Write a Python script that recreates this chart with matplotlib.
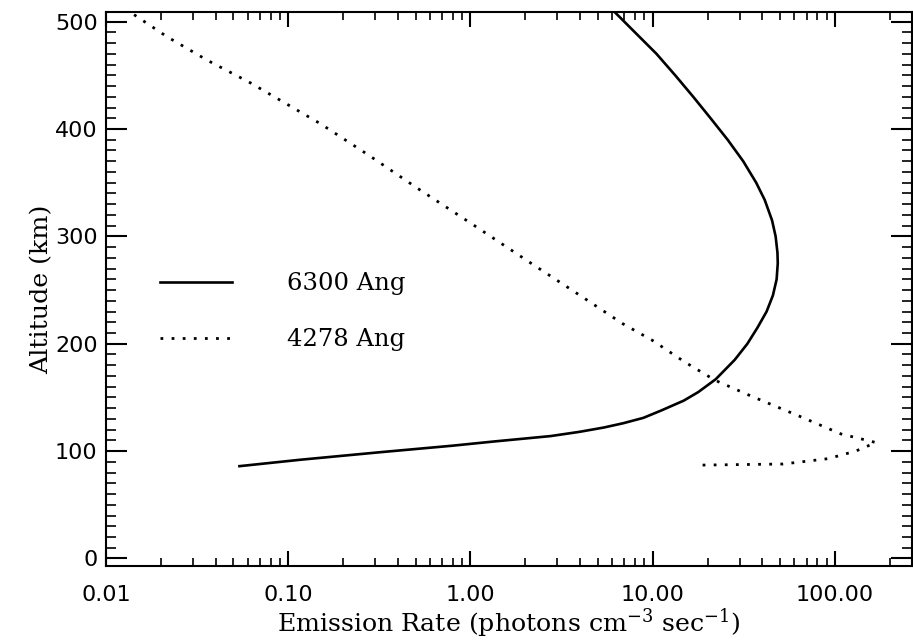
import numpy as np
import matplotlib
matplotlib.use("Agg")
import matplotlib.pyplot as plt
from matplotlib.ticker import LogLocator, MultipleLocator, NullFormatter

plt.rcParams['mathtext.fontset'] = 'dejavuserif'

# 6300 Ang (solid) emission profile
rate_6300 = [0.054, 0.117, 0.32, 0.79, 1.35, 2.75, 3.98, 5.4, 6.9, 8.9,
             11.2, 14.8, 17.8, 22.2, 28.2, 33.1, 37.6, 42.2, 45.7,
             47.9, 48.6, 48.4, 47.3, 45.2, 41.2, 37.0, 31.4, 25.8, 20.8,
             16.7, 13.3, 10.5, 8.0, 6.1]
alt_6300 = [86, 92, 99, 105, 109, 114, 118, 122, 126, 131,
            138, 147, 155, 167, 185, 200, 215, 230, 245,
            260, 275, 285, 300, 315, 334, 350, 370, 390, 410,
            430, 450, 470, 490, 510]

# 4278 Ang (dotted) emission profile
rate_4278 = [18.8, 52.0, 92.0, 130.0, 168.0, 108.0, 65.0, 35.0, 22.0, 15.0,
             10.0, 6.8, 4.25, 2.15, 1.01, 0.51, 0.28, 0.15, 0.062, 0.036,
             0.0216, 0.0141, 0.013]
alt_4278 = [87, 88, 93, 100, 108, 116, 132, 151, 166, 183,
            203, 219, 242, 275, 312, 345, 375, 405, 443, 464,
            486, 507, 510]

xtick_vals = [0.01, 0.1, 1.0, 10.0, 100.0]
xtick_labels = ['0.01', '0.10', '1.00', '10.00', '100.00']
ytick_vals = [0, 100, 200, 300, 400, 500]

fig = plt.figure(figsize=(9.13, 6.44), dpi=100)
ax = fig.add_axes([0.1161, 0.1211, 0.8828, 0.8603])

ax.plot(rate_6300, alt_6300, color='black', linewidth=1.9, label='6300 Ang')
ax.plot(rate_4278, alt_4278, color='black', linewidth=2.0,
        linestyle=(0, (1, 3)), label='4278 Ang')

ax.set_xscale('log')
ax.set_xlim(0.01, 265)
ax.set_ylim(-7, 509)

ax.set_xticks(xtick_vals)
ax.set_xticklabels(xtick_labels)
ax.xaxis.set_minor_locator(LogLocator(base=10, subs=np.arange(2, 10)))
ax.xaxis.set_minor_formatter(NullFormatter())
ax.set_yticks(ytick_vals)
ax.yaxis.set_minor_locator(MultipleLocator(10))

for s in ax.spines.values():
    s.set_linewidth(1.5)

ax.tick_params(which='both', direction='in', top=True, right=True,
               labelsize=16)
ax.tick_params(axis='y', which='major', length=15, width=1.5, pad=6)
ax.tick_params(axis='y', which='minor', length=7, width=1.2)
ax.tick_params(axis='x', which='major', length=11, width=1.5, pad=14)
ax.tick_params(axis='x', which='minor', length=6, width=1.2)

ax.set_xlabel(r'Emission Rate (photons cm$^{\mathregular{-3}}$ sec$^{\mathregular{-1}}$)',
              family='DejaVu Serif', fontsize=18.2, labelpad=1)
ax.set_ylabel('Altitude (km)', family='DejaVu Serif', fontsize=18.2,
              labelpad=1)

ax.legend(loc='upper left', bbox_to_anchor=(0.067, 0.53), frameon=False,
          borderpad=0, borderaxespad=0, handlelength=2.96,
          handletextpad=2.26, labelspacing=1.35,
          prop={'family': 'DejaVu Serif', 'size': 17.5})

fig.savefig('out.png', dpi=100)
